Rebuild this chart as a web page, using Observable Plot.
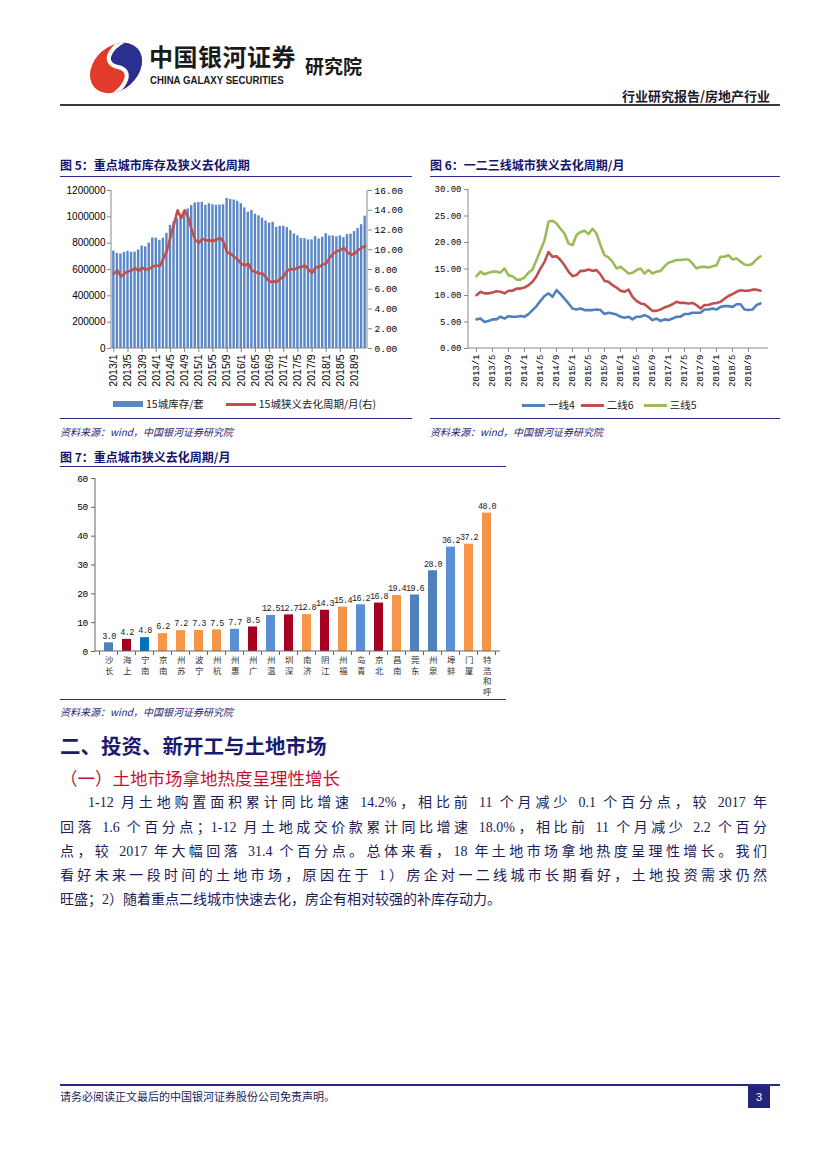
<!DOCTYPE html>
<html><head><meta charset="utf-8">
<script src="https://cdn.jsdelivr.net/npm/d3@7"></script>
<script src="https://cdn.jsdelivr.net/npm/@observablehq/plot@0.6"></script>
<style>
body{margin:0;background:#fff;}
#page{position:relative;width:827px;height:1169px;overflow:hidden;font-family:"Noto Sans CJK SC",sans-serif;color:#000;}
.abs{position:absolute;}
.ftitle{position:absolute;font-size:12px;font-weight:bold;color:#14146b;white-space:nowrap;line-height:14px;}
.hline{position:absolute;height:0;border-top:1.6px solid #2a2a8a;}
.src{position:absolute;font-size:10px;font-style:italic;color:#1f1f6f;white-space:nowrap;line-height:12px;}
.leg{position:absolute;font-size:10.5px;color:#222;white-space:nowrap;line-height:14px;display:flex;align-items:center;}
.leg .sw{display:inline-block;margin-right:3px;}
.para{position:absolute;left:60px;width:707px;font-family:"Liberation Serif","Noto Sans CJK SC",serif;font-size:14px;color:#1c1c58;line-height:18px;white-space:nowrap;text-align:justify;text-align-last:justify;}
</style></head><body><div id="page">

<!-- header -->
<div class="abs" style="left:86px;top:38px;width:60px;height:60px">
<svg width="60" height="60" viewBox="0 0 58 58">
 <defs><clipPath id="ell"><ellipse cx="29" cy="29" rx="28" ry="21" transform="rotate(-42 29 29)"/></clipPath></defs>
 <g clip-path="url(#ell)">
  <rect width="58" height="58" fill="#e23a2b"/>
  <path d="M42 0 C 20 10, 16 25, 31 28 C 45 31, 41 46, 22 58 L 58 58 L 58 0 Z" fill="#2b2f8e"/>
  <path d="M42 0 C 20 10, 16 25, 31 28 C 45 31, 41 46, 22 58" fill="none" stroke="#fff" stroke-width="4"/>
 </g>
</svg></div>
<div class="abs" style="left:149px;top:41px;font-size:24px;font-weight:bold;color:#1a1a1a;letter-spacing:0.5px;line-height:30px;white-space:nowrap;">中国银河证券</div>
<div class="abs" style="left:150px;top:74px;font-family:'Liberation Sans',sans-serif;font-size:10.5px;font-weight:bold;color:#1a1a1a;line-height:12px;white-space:nowrap;transform:scaleX(0.92);transform-origin:left;">CHINA GALAXY SECURITIES</div>
<div class="abs" style="left:305px;top:54px;font-size:19px;font-weight:bold;color:#1a1a1a;line-height:24px;white-space:nowrap;">研究院</div>
<div class="abs" style="left:560px;width:210px;top:87px;font-size:13px;font-weight:bold;color:#1a1a2a;text-align:right;line-height:18px;white-space:nowrap;">行业研究报告/房地产行业</div>
<div class="abs" style="left:60px;width:720px;top:104px;height:2px;background:#3a3a3a;"></div>

<!-- figure 5 -->
<div class="ftitle" style="left:60px;top:158px;">图 5：重点城市库存及狭义去化周期</div>
<div class="hline" style="left:60px;width:352px;top:176px;"></div>
<div id="c5" class="abs" style="left:60px;top:180px;"></div>
<div class="leg" style="left:113px;top:397px;">
 <span class="sw" style="width:30px;height:6px;background:#5a87c6;"></span><span>15城库存/套</span>
 <span class="sw" style="width:30px;height:3px;background:#c0504d;margin-left:22px;"></span><span>15城狭义去化周期/月(右)</span>
</div>
<div class="hline" style="left:60px;width:352px;top:418px;"></div>
<div class="src" style="left:60px;top:426px;">资料来源：wind，中国银河证券研究院</div>

<!-- figure 6 -->
<div class="ftitle" style="left:430px;top:158px;">图 6：一二三线城市狭义去化周期/月</div>
<div class="hline" style="left:430px;width:350px;top:176px;"></div>
<div id="c6" class="abs" style="left:430px;top:180px;"></div>
<div class="leg" style="left:522px;top:398px;">
 <span class="sw" style="width:23px;height:3px;background:#4f81bd;"></span><span>一线4</span>
 <span class="sw" style="width:23px;height:3px;background:#c0504d;margin-left:6px;"></span><span>二线6</span>
 <span class="sw" style="width:23px;height:3px;background:#9bbb59;margin-left:10px;"></span><span>三线5</span>
</div>
<div class="hline" style="left:430px;width:350px;top:418px;"></div>
<div class="src" style="left:430px;top:426px;">资料来源：wind，中国银河证券研究院</div>

<!-- figure 7 -->
<div class="ftitle" style="left:60px;top:450px;">图 7：重点城市狭义去化周期/月</div>
<div class="hline" style="left:60px;width:446px;top:466px;"></div>
<div id="c7" class="abs" style="left:60px;top:468px;"></div>
<div class="hline" style="left:60px;width:446px;top:699px;"></div>
<div class="src" style="left:60px;top:706px;">资料来源：wind，中国银河证券研究院</div>

<!-- text -->
<div class="abs" style="left:60px;top:731px;font-size:20.5px;font-weight:bold;color:#1a1a6e;line-height:28px;white-space:nowrap;">二、投资、新开工与土地市场</div>
<div class="abs" style="left:60px;top:765px;font-size:17.5px;color:#c8102e;line-height:26px;white-space:nowrap;">（一）土地市场拿地热度呈理性增长</div>
<div class="para" style="top:794px;left:88px;width:679px;">1-12 月土地购置面积累计同比增速 14.2%，相比前 11 个月减少 0.1 个百分点，较 2017 年</div>
<div class="para" style="top:819px;">回落 1.6 个百分点；1-12 月土地成交价款累计同比增速 18.0%，相比前 11 个月减少 2.2 个百分</div>
<div class="para" style="top:843px;">点，较 2017 年大幅回落 31.4 个百分点。总体来看，18 年土地市场拿地热度呈理性增长。我们</div>
<div class="para" style="top:867px;">看好未来一段时间的土地市场，原因在于 1）房企对一二线城市长期看好，土地投资需求仍然</div>
<div class="para" style="top:891px;text-align-last:left;">旺盛；2）随着重点二线城市快速去化，房企有相对较强的补库存动力。</div>

<!-- footer -->
<div class="abs" style="left:60px;width:720px;top:1084px;height:2px;background:#2a2a8a;"></div>
<div class="abs" style="left:60px;top:1089px;font-size:11px;color:#1c1c58;line-height:14px;white-space:nowrap;">请务必阅读正文最后的中国银河证券股份公司免责声明。</div>
<div class="abs" style="left:748px;top:1086px;width:22px;height:22px;background:#23237a;color:#fff;font-family:'Liberation Sans',sans-serif;font-size:11px;text-align:center;line-height:22px;">3</div>

</div>
<script>
// ---------- data ----------
const years = [2013, 2014, 2015, 2016, 2017, 2018];
const months = [];
for (const y of years) for (let m = 1; m <= 12; m++) months.push(`${y}/${m}`);
const monthTicks = ["2013/1","2013/5","2013/9","2014/1","2014/5","2014/9","2015/1","2015/5","2015/9",
  "2016/1","2016/5","2016/9","2017/1","2017/5","2017/9","2018/1","2018/5","2018/9"];

// 15城库存/套
const inventory15 = [740000,722000,718000,730000,738000,730000,732000,748000,778000,772000,800000,840000,
  838000,822000,838000,875000,935000,962000,985000,1010000,1035000,1060000,1085000,1105000,
  1108000,1110000,1088000,1100000,1092000,1088000,1090000,1092000,1140000,1132000,1128000,1118000,
  1100000,1068000,1035000,1048000,1020000,1008000,990000,968000,952000,958000,920000,928000,
  928000,918000,895000,870000,855000,835000,835000,825000,825000,850000,832000,845000,
  872000,855000,855000,848000,855000,842000,865000,868000,888000,912000,940000,1005000];
// 15城狭义去化周期/月(右)
const cycle15 = [7.58,7.9,7.3,7.6,7.8,7.9,8.15,7.85,8.2,8.0,8.05,8.3,
  8.4,8.35,9.1,9.9,11.3,12.6,14.0,13.2,14.0,13.3,12.0,11.0,
  10.7,11.1,10.95,10.95,10.9,11.0,11.2,10.8,9.75,9.6,9.3,9.0,
  8.6,8.4,8.6,7.9,7.75,7.6,7.6,7.2,6.75,6.8,6.75,7.05,
  7.3,7.9,8.05,8.0,8.2,8.25,8.4,8.0,7.65,8.2,8.25,8.5,
  8.6,9.2,9.6,9.85,9.95,10.2,9.75,9.5,9.6,9.95,10.2,10.35];

// 一线4 / 二线6 / 三线5
const tier1 = [5.5,5.65,5.0,5.2,5.5,5.5,6.0,5.65,6.1,6.0,6.0,6.15,
  6.0,6.5,7.25,8.0,9.0,9.9,10.4,9.75,11.0,10.25,9.4,8.5,
  7.55,7.35,7.55,7.25,7.25,7.25,7.35,7.25,6.5,6.75,6.6,6.4,
  6.0,5.8,6.0,5.5,6.0,6.0,6.3,6.0,5.35,5.65,5.2,5.5,
  5.35,5.65,6.0,6.0,6.5,6.5,6.75,6.75,6.75,7.35,7.35,7.55,
  7.35,7.85,8.0,8.0,7.85,8.35,8.35,7.35,7.25,7.35,8.2,8.5];
const tier2 = [10.05,10.7,10.4,10.4,10.55,10.8,10.7,10.4,10.9,10.9,11.3,11.3,
  11.5,11.95,12.6,13.65,15.1,16.35,18.2,17.3,17.4,16.7,15.7,14.5,
  13.65,13.85,14.65,14.65,14.9,14.65,14.8,14.0,12.75,12.6,11.95,11.5,
  10.9,10.7,11.1,9.75,9.0,8.5,8.35,7.75,7.1,7.1,7.35,7.75,
  8.0,8.35,8.8,8.6,8.6,8.5,8.6,8.2,7.55,8.2,8.2,8.5,
  8.6,8.8,9.4,9.9,10.25,10.7,11.0,10.9,10.9,11.1,11.1,10.9];
const tier3 = [13.65,14.5,14.0,14.3,14.5,14.5,14.3,15.1,13.8,13.65,13.0,13.0,
  13.4,14.3,14.9,16.7,18.55,20.4,23.9,24.1,23.6,22.6,21.7,19.8,
  19.5,21.4,22.0,22.2,21.6,22.6,21.7,19.5,17.6,17.2,16.4,15.1,
  15.4,14.8,14.15,14.3,14.8,15.1,14.15,14.8,14.15,14.5,14.65,15.5,
  16.2,16.4,16.7,16.7,16.8,16.8,16.0,15.1,15.4,15.4,15.3,15.5,
  15.7,17.3,17.3,17.6,16.8,17.0,16.4,15.85,15.7,16.0,16.8,17.4];
const tierNames = ["一线4", "二线6", "三线5"];

// 图7
const cities7 = ["长沙","上海","南宁","南京","苏州","宁波","杭州","惠州","广州","温州","深圳","济南",
  "江阴","福州","青岛","北京","南昌","东莞","泉州","蚌埠","厦门","呼和浩特"];
const values7 = [3.0,4.2,4.8,6.2,7.2,7.3,7.5,7.7,8.5,12.5,12.7,12.8,14.3,15.4,16.2,16.8,19.4,19.6,28.0,36.2,37.2,48.0];
const group7 = ["g1","r","g2","o","o","o","o","g3","r","g3","r","o","r","o","g3","r","o","g1","g1","g3","o","o"];

// ---------- helpers ----------
const NS = "http://www.w3.org/2000/svg";
function edges(sides, color = "#000", w = 1) {
  return (index, scales, values, dims) => {
    const g = document.createElementNS(NS, "g");
    const L = dims.marginLeft, R = dims.width - dims.marginRight, T = dims.marginTop, B = dims.height - dims.marginBottom;
    const seg = {left: [L, T, L, B], right: [R, T, R, B], bottom: [L, B, R, B]};
    for (const s of sides) {
      const [x1, y1, x2, y2] = seg[s];
      const l = document.createElementNS(NS, "line");
      l.setAttribute("x1", x1); l.setAttribute("y1", y1); l.setAttribute("x2", x2); l.setAttribute("y2", y2);
      l.setAttribute("stroke", color); l.setAttribute("stroke-width", w);
      g.appendChild(l);
    }
    return g;
  };
}

// ---------- chart 5 ----------
const k5 = 1200000 / 16;
const data5 = months.map((m, i) => ({m, inv: inventory15[i], cyc: cycle15[i]}));
const c5 = Plot.plot({
  width: 352, height: 220, marginLeft: 51, marginRight: 45, marginTop: 10, marginBottom: 52,
  style: {background: "transparent", color: "#000"},
  x: {type: "band", domain: months, padding: 0.32, axis: null},
  y: {domain: [0, 1200000], axis: null},
  marks: [
    Plot.barY(data5, {x: "m", y: "inv", fill: "#5a87c6"}),
    Plot.line(data5, {x: "m", y: d => d.cyc * k5, stroke: "#c0504d", strokeWidth: 2.6, strokeLinejoin: "round"}),
    edges(["left", "right", "bottom"], "#888"),
    Plot.axisY({anchor: "left", label: null, ticks: [0,200000,400000,600000,800000,1000000,1200000], tickFormat: d => String(d),
      tickSize: 4, tickPadding: 2, fontSize: 10, fontFamily: "Liberation Sans, Arial, sans-serif", stroke: "#888"}),
    Plot.axisY({anchor: "right", label: null, ticks: [0,2,4,6,8,10,12,14,16].map(v => v * k5), tickFormat: d => (d / k5).toFixed(2),
      tickSize: 4, tickPadding: 3, fontSize: 9.5, fontFamily: "Liberation Mono, monospace", stroke: "#888"}),
    Plot.axisX({anchor: "bottom", label: null, ticks: monthTicks, tickRotate: -90, tickSize: 4, tickPadding: 2,
      fontSize: 10.5, fontFamily: "Liberation Sans, Arial, sans-serif", stroke: "#888"})
  ]
});
document.getElementById("c5").appendChild(c5);

// ---------- chart 6 ----------
const data6 = [];
months.forEach((m, i) => {
  data6.push({m, s: tierNames[0], v: tier1[i]});
  data6.push({m, s: tierNames[1], v: tier2[i]});
  data6.push({m, s: tierNames[2], v: tier3[i]});
});
const c6 = Plot.plot({
  width: 350, height: 220, marginLeft: 38, marginRight: 12, marginTop: 9, marginBottom: 52,
  style: {background: "transparent", color: "#000"},
  x: {type: "point", domain: months, padding: 0.15, axis: null},
  y: {domain: [0, 30], axis: null},
  color: {domain: tierNames, range: ["#4f81bd", "#c0504d", "#9bbb59"]},
  marks: [
    Plot.line(data6, {x: "m", y: "v", z: "s", stroke: "s", strokeWidth: 2.6, strokeLinejoin: "round"}),
    edges(["left", "bottom"], "#888"),
    Plot.axisY({anchor: "left", label: null, ticks: [0,5,10,15,20,25,30], tickFormat: d => d.toFixed(2), tickSize: 4, tickPadding: 3,
      fontSize: 9, fontFamily: "Liberation Mono, monospace", stroke: "#888"}),
    Plot.axisX({anchor: "bottom", label: null, ticks: monthTicks, tickRotate: -90, tickSize: 4, tickPadding: 2,
      fontSize: 9, fontFamily: "Liberation Mono, monospace", stroke: "#888"})
  ]
});
document.getElementById("c6").appendChild(c6);

// ---------- chart 7 ----------
const data7 = cities7.map((c, i) => ({c, v: values7[i], g: group7[i]}));
const bandTicks = (index, scales, values, dims) => {
  const g = document.createElementNS(NS, "g");
  const x = scales.x;
  const step = x.step ? x.step() : 0, bw = x.bandwidth ? x.bandwidth() : 0;
  const B = dims.height - dims.marginBottom;
  const pos = cities7.map(c => x(c) - (step - bw) / 2);
  pos.push(x(cities7[cities7.length - 1]) + bw + (step - bw) / 2);
  for (const p of pos) {
    const l = document.createElementNS(NS, "line");
    l.setAttribute("x1", p); l.setAttribute("x2", p); l.setAttribute("y1", B); l.setAttribute("y2", B + 4);
    l.setAttribute("stroke", "#666"); g.appendChild(l);
  }
  return g;
};
const c7 = Plot.plot({
  width: 446, height: 240, marginLeft: 35, marginRight: 6, marginTop: 10, marginBottom: 57,
  style: {background: "transparent", color: "#000", letterSpacing: "-0.6px"},
  x: {type: "band", domain: cities7, paddingInner: 0.5, paddingOuter: 0.25, axis: null},
  y: {domain: [0, 60], axis: null},
  color: {domain: ["g1", "g2", "g3", "r", "o"], range: ["#4f81bd", "#0070c0", "#5b8fd4", "#a50021", "#f79646"]},
  marks: [
    Plot.barY(data7, {x: "c", y: "v", fill: "g"}),
    Plot.text(data7, {x: "c", y: "v", text: d => d.v.toFixed(1), dy: -7, fontSize: 8.5,
      fontFamily: "Liberation Mono, monospace", fill: "#222"}),
    edges(["left", "bottom"], "#666"),
    bandTicks,
    Plot.axisY({anchor: "left", label: null, ticks: [0,10,20,30,40,50,60], tickSize: 4, tickPadding: 4, fontSize: 9.5,
      fontFamily: "Liberation Mono, monospace", stroke: "#666"}),
    Plot.axisX({anchor: "bottom", label: null, tickSize: 0, tickPadding: 4, fontSize: 8.5, lineHeight: 1.25,
      fontFamily: "Noto Sans CJK SC, sans-serif", fill: "#333", tickFormat: d => [...d].reverse().join("\n")})
  ]
});
document.getElementById("c7").appendChild(c7);
</script>
</body></html>
